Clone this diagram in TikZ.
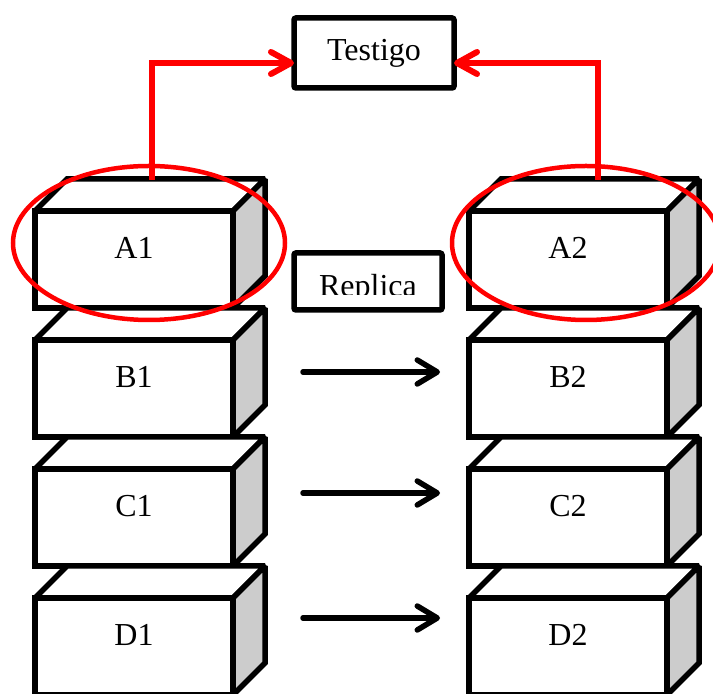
\documentclass[tikz,border=0pt]{standalone}
\usepackage{fontspec}
\setmainfont{Liberation Serif}
\usetikzlibrary{calc}
\usetikzlibrary{arrows.meta}
\definecolor{lateral}{RGB}{204,204,204}
\definecolor{rojo}{RGB}{255,0,0}

\tikzset{
  frente/.style={draw, line width=2.75pt, fill=white, minimum width=99pt, minimum height=48.5pt,
    inner sep=0pt, outer sep=0pt, text height=11pt, text depth=12pt, font=\fontsize{16}{18}\selectfont},
  cara/.style={draw, line width=2.75pt, miter limit=2},
  caja/.style={draw, line width=2.75pt, rounded corners=1pt, inner sep=0pt, outer sep=0pt,
    font=\fontsize{16}{18}\selectfont},
  texto/.style={inner sep=0pt, font=\fontsize{16}{18}\selectfont},
  flecha/.style={line width=2.75pt, line cap=round, -{Straight Barb[length=10pt,width=12pt,round]}},
  enlace/.style={rojo, line width=3pt, -{Straight Barb[length=10pt,width=11pt,round]}},
  marca/.style={rojo, line width=2.25pt}
}

\begin{document}
\begin{tikzpicture}[x=0.5pt,y=-0.5pt]
  \clip (0,0) rectangle (713,694);

  % Testigo
  \node[caja, minimum width=80pt, minimum height=35pt] (testigo) at (374,53) {Testigo};

  % Cubes
  \foreach \n/\x/\y in {A1/134/259.5, B1/134/388.5, C1/134/517.5, D1/134/646.5,
                        A2/568/259.5, B2/568/388.5, C2/568/517.5, D2/568/646.5}{
    \node[frente] (\n) at (\x,\y) {\n};
    \filldraw[cara, fill=white] (\n.north west) -- ++(32,-32) -- ($(\n.north east)+(32,-32)$) -- (\n.north east) -- cycle;
    \filldraw[cara, fill=lateral] (\n.north east) -- ++(32,-32) -- ($(\n.south east)+(32,-32)$) -- (\n.south east) -- cycle;
  }

  % Replica
  \node[caja, minimum width=74pt, minimum height=28.5pt] (replica) at (368,281.5) {};
  \begin{scope}
    \clip (replica.north west) rectangle ([yshift=7.5pt]replica.south east);
    \node[texto, anchor=base] (rotulo) at (368,297) {Replica};
  \end{scope}

  % Copy arrows
  \foreach \y [count=\i] in {372,493,618}{
    \coordinate (ini\i) at (303,\y);
    \coordinate (fin\i) at (440,\y);
    \draw[flecha] (ini\i) -- (fin\i);
  }

  % Links to Testigo
  \draw[enlace] ([xshift=9pt,yshift=15.5pt]A1.north) |- ([yshift=-5pt]testigo.west);
  \draw[enlace] ([xshift=15pt,yshift=15.5pt]A2.north) |- ([yshift=-5pt]testigo.east);

  % Marks
  \draw[marca] ([xshift=7.5pt,yshift=8.25pt]A1.center) ellipse [x radius=68pt, y radius=38.5pt];
  \draw[marca] ([xshift=9pt,yshift=8.25pt]A2.center) ellipse [x radius=67pt, y radius=38.5pt];
\end{tikzpicture}
\end{document}
